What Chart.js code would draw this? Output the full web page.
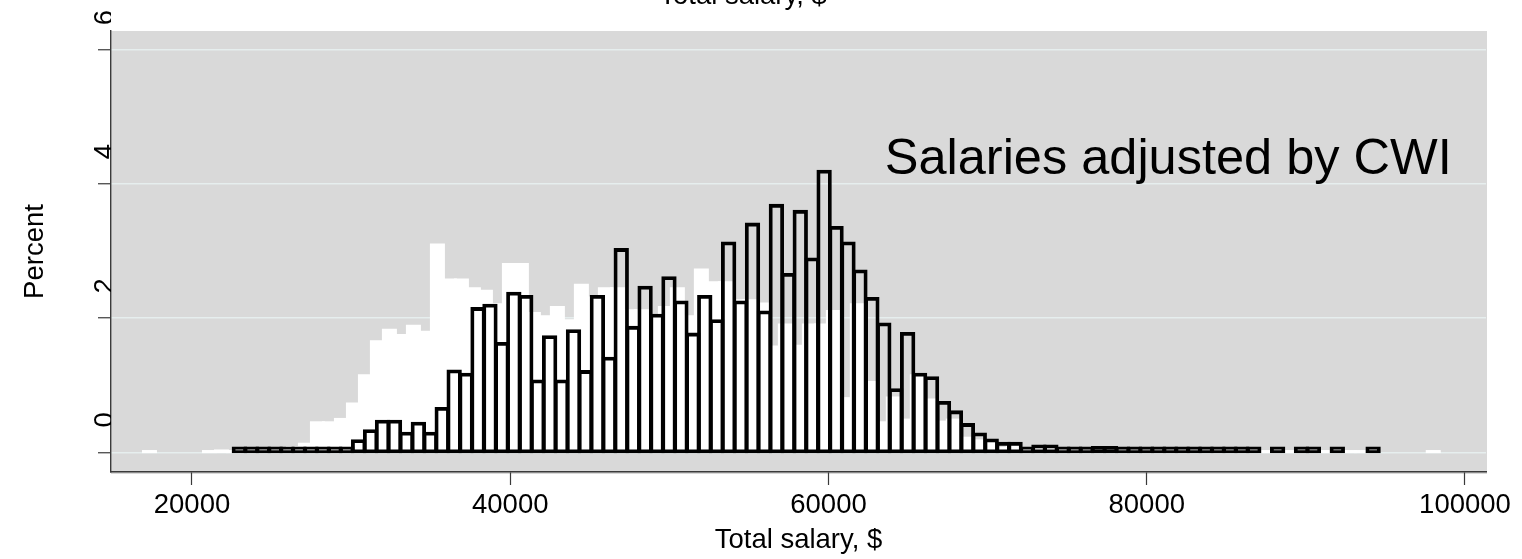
<!DOCTYPE html>
<html>
<head>
<meta charset="utf-8">
<script src="https://cdn.jsdelivr.net/npm/chart.js@4.4.1/dist/chart.umd.min.js"></script>
<style>
html,body{margin:0;padding:0;background:#ffffff;}
canvas{display:block;}
</style>
</head>
<body>
<canvas id="c" width="1522" height="559"></canvas>
<script>
// ---------------- data ----------------
// Salaries adjusted by CWI (outlined histogram): bins of $750 starting at $22,600
const adjBinStart = 22600;
const adjBinWidth = 750;
const adjustedPercent = [
  0.01, 0.03, 0.01, 0.01, 0.01, 0.01, 0.03, 0.01, 0.03, 0.06,
  0.17, 0.32, 0.46, 0.46, 0.28, 0.43, 0.28, 0.65, 1.21, 1.16,
  2.14, 2.19, 1.62, 2.37, 2.32, 1.06, 1.72, 1.06, 1.81, 1.20,
  2.32, 1.40, 3.02, 1.86, 2.46, 2.04, 2.60, 2.24, 1.76, 2.32,
  1.96, 3.12, 2.24, 3.40, 2.09, 3.68, 2.65, 3.59, 2.88, 4.19,
  3.35, 3.12, 2.70, 2.29, 1.91, 0.93, 1.77, 1.16, 1.11, 0.74,
  0.60, 0.41, 0.27, 0.18, 0.13, 0.13, 0.05, 0.09, 0.09, 0.01,
  0.01, 0.02, 0.07, 0.07, 0.02, 0.02, 0.02, 0.01, 0.02, 0.01,
  0.02, 0.01, 0.02, 0.01, 0.01, 0.01, null, 0.01, null, 0.01,
  0.01, null, 0.01, null, null, 0.01
];

// Unadjusted salaries (white histogram behind): bins of $754 starting at $16,950
const unadjBinStart = 16950;
const unadjBinWidth = 754;
const unadjustedPercent = [
  0.01, null, null, null, null, 0.01, 0.02, 0.01, 0.01, 0.02,
  0.02, 0.02, 0.07, 0.12, 0.44, 0.44, 0.49, 0.72, 1.14, 1.65,
  1.82, 1.74, 1.88, 1.79, 3.09, 2.57, 2.57, 2.44, 2.40, 2.20,
  2.80, 2.80, 2.07, 2.02, 2.16, 1.96, 2.49, 2.30, 2.44, 2.44,
  2.11, 2.11, 2.02, 2.16, 2.44, 2.02, 2.72, 2.53, 2.53, 2.26,
  2.26, 2.21, 1.57, 1.90, 1.58, 1.90, 1.90, 2.10, 0.80, 2.20,
  1.04, 0.44, 0.81, 0.48, 1.14, 0.78, 0.45, 0.48, 0.21, 0.17,
  0.13, 0.06, 0.08, 0.03, 0.06, 0.05, 0.03, 0.02, 0.01, 0.01,
  0.01, 0.01, 0.01, 0.01, 0.01, 0.01, 0.01, 0.01, 0.01, 0.01,
  0.01, 0.01, 0.01, 0.01, null, 0.01, null, null, 0.01, null,
  0.01, 0.01, null, null, null, null, null, 0.01
];

const xTickValues = [20000, 40000, 60000, 80000, 100000];
const yTickValues = [0, 2, 4, 6];
const xTitle = 'Total salary, $';
const yTitle = 'Percent';
const noteText = 'Salaries adjusted by CWI';
const notePosition = {x: 81350, y: 4.36};

// --------------- chart ----------------
function binPoints(start, width, values) {
  return values.map((v, i) => ({x: start + width * (i + 0.5), y: v}));
}

const FONT = "'Liberation Sans', Arial, Helvetica, sans-serif";
Chart.defaults.font.family = FONT;
Chart.defaults.color = '#000000';

const plotRegion = {
  id: 'plotRegion',
  beforeDraw(chart) {
    const a = chart.chartArea, ctx = chart.ctx;
    ctx.save();
    ctx.fillStyle = '#d9d9d9';
    ctx.fillRect(a.left, a.top, a.right - a.left + 1, a.bottom - a.top + 2);
    ctx.restore();
  }
};

const noteLabel = {
  id: 'noteLabel',
  afterDatasetsDraw(chart, args, opts) {
    const ctx = chart.ctx;
    const x = chart.scales.x.getPixelForValue(opts.x);
    const y = chart.scales.y.getPixelForValue(opts.y);
    ctx.save();
    ctx.font = opts.size + 'px ' + FONT;
    ctx.fillStyle = '#000000';
    ctx.textAlign = 'center';
    ctx.textBaseline = 'middle';
    ctx.fillText(opts.text, x, y);
    ctx.restore();
  }
};

const axisDark = '#3a3a3a';
const gridLight = '#e6eeee';

new Chart(document.getElementById('c'), {
  type: 'bar',
  data: {
    datasets: [
      {
        label: 'Total salary',
        data: binPoints(unadjBinStart, unadjBinWidth, unadjustedPercent),
        xAxisID: 'x2',
        yAxisID: 'y',
        backgroundColor: '#ffffff',
        borderWidth: 0,
        inflateAmount: 1.5,
        minBarLength: 0.5,
        grouped: false,
        categoryPercentage: 1,
        barPercentage: 1,
        order: 2
      },
      {
        label: 'Salaries adjusted by CWI',
        data: binPoints(adjBinStart, adjBinWidth, adjustedPercent),
        xAxisID: 'x',
        yAxisID: 'y',
        backgroundColor: 'rgba(0,0,0,0)',
        borderColor: '#000000',
        borderWidth: 0.4,
        borderSkipped: false,
        inflateAmount: 1.7,
        minBarLength: 4.2,
        grouped: false,
        categoryPercentage: 1,
        barPercentage: 1,
        order: 1
      }
    ]
  },
  options: {
    responsive: false,
    devicePixelRatio: 1,
    animation: false,
    events: [],
    layout: {padding: {left: 0, right: 36, top: 0, bottom: 0}},
    plugins: {
      legend: {display: false},
      tooltip: {enabled: false},
      title: {
        display: true,
        text: xTitle,
        color: '#000000',
        font: {size: 27.5, weight: 'normal', family: FONT},
        padding: {top: -20, bottom: 18}
      },
      noteLabel: {text: noteText, x: notePosition.x, y: notePosition.y, size: 50.5}
    },
    scales: {
      x: {
        type: 'linear',
        position: 'bottom',
        min: 14910,
        max: 101320,
        offset: false,
        afterBuildTicks: (s) => { s.ticks = xTickValues.map(v => ({value: v})); },
        afterFit: (s) => { s.height = 87; },
        grid: {display: true, drawOnChartArea: false, drawTicks: true, offset: false,
               tickLength: 13, tickColor: axisDark, tickWidth: 1.2},
        border: {display: true, color: axisDark, width: 1.4},
        ticks: {
          font: {size: 27.5}, color: '#000000', padding: 3.8,
          maxRotation: 0, minRotation: 0, autoSkip: false,
          callback: (v) => String(v)
        },
        title: {display: true, text: xTitle, color: '#000000',
                font: {size: 27.5}, padding: {top: 0, bottom: 2.2}}
      },
      x2: {
        type: 'linear',
        display: false,
        min: 14910,
        max: 101320,
        offset: false,
        grid: {offset: false},
        afterBuildTicks: (s) => { s.ticks = xTickValues.map(v => ({value: v})); }
      },
      y: {
        type: 'linear',
        position: 'left',
        min: -0.294,
        max: 6.283,
        afterBuildTicks: (s) => { s.ticks = yTickValues.map(v => ({value: v})); },
        afterFit: (s) => { s.width = 111; },
        grid: {display: true, drawOnChartArea: true, drawTicks: true,
               color: gridLight, lineWidth: 1.5,
               tickLength: 13, tickColor: axisDark, tickWidth: 1.2},
        border: {display: true, color: axisDark, width: 1.4},
        ticks: {
          font: {size: 27.5}, color: '#000000',
          minRotation: 90, maxRotation: 90,
          crossAlign: 'center', padding: -14.6, labelOffset: -32.4,
          autoSkip: false,
          callback: (v) => String(v)
        },
        title: {display: true, text: yTitle, color: '#000000',
                font: {size: 27.5}, padding: {top: 18.5, bottom: 0}}
      }
    }
  },
  plugins: [plotRegion, noteLabel]
});
</script>
</body>
</html>
